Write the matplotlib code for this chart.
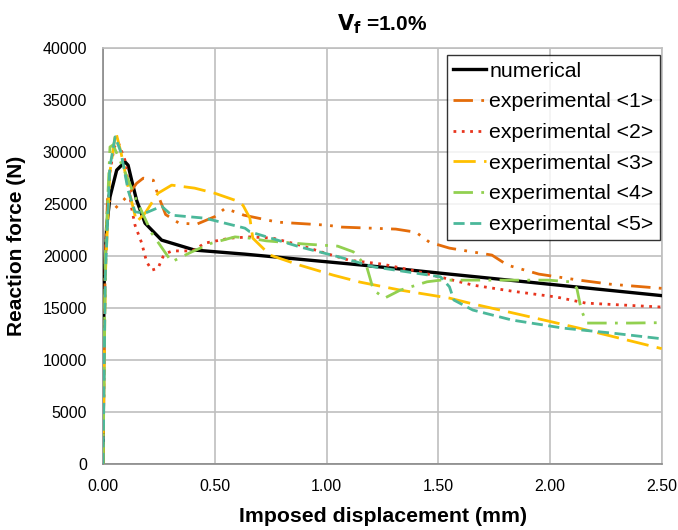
import matplotlib
matplotlib.use("Agg")
import matplotlib.pyplot as plt

plt.rcParams['font.family'] = ['Liberation Sans', 'DejaVu Sans']

num_x = [0, 0.004, 0.016, 0.031, 0.061, 0.098, 0.112, 0.128, 0.15, 0.188, 0.262, 0.41, 0.635, 1.163, 1.55, 2.5]
num_y = [0, 17000, 22800, 25700, 28270, 29070, 28750, 27300, 25380, 23170, 21540, 20580, 20190, 19130, 18270, 16200]

e1_x = [0, 0.01, 0.02, 0.054, 0.106, 0.15, 0.18, 0.225, 0.246, 0.28, 0.34, 0.42, 0.5, 0.546, 0.63, 0.78, 1.0, 1.07, 1.31, 1.4, 1.46, 1.52, 1.55, 1.74, 1.81, 1.95, 2.13, 2.27, 2.5]
e1_y = [0, 20000, 25500, 24600, 25700, 27000, 27500, 27300, 25870, 24000, 23170, 23080, 23800, 24600, 23940, 23270, 22980, 22790, 22600, 22300, 21350, 20960, 20770, 20100, 19130, 18270, 17690, 17300, 16900]

e2_x = [0, 0.01, 0.03, 0.05, 0.067, 0.098, 0.128, 0.143, 0.173, 0.195, 0.218, 0.246, 0.268, 0.285, 0.31, 0.40, 0.456, 0.568, 0.657, 0.76, 0.88, 0.98, 1.1, 1.25, 1.4, 1.51, 1.655, 1.83, 2.03, 2.16, 2.5]
e2_y = [0, 20000, 28000, 30500, 31000, 29230, 24600, 22980, 21250, 19450, 18650, 18840, 19930, 20290, 20500, 20500, 21250, 21730, 21850, 21730, 21060, 20380, 19610, 19230, 18560, 17980, 17210, 16630, 16060, 15480, 15100]

e3_x = [0, 0.01, 0.03, 0.057, 0.08, 0.112, 0.15, 0.188, 0.246, 0.307, 0.41, 0.5, 0.59, 0.626, 0.657, 0.67, 0.747, 0.88, 1.03, 1.15, 1.33, 1.55, 1.64, 1.91, 2.13, 2.5]
e3_y = [0, 18000, 28000, 31950, 30000, 26660, 23300, 24130, 26050, 26830, 26540, 26050, 25380, 24900, 23650, 21730, 20100, 19130, 18170, 17500, 16730, 15960, 15480, 14160, 13070, 11100]

e4_x = [0, 0.01, 0.031, 0.045, 0.1, 0.143, 0.218, 0.307, 0.397, 0.486, 0.59, 0.657, 0.73, 0.91, 1.05, 1.12, 1.18, 1.21, 1.26, 1.33, 1.45, 1.51, 1.76, 1.99, 2.09, 2.12, 2.14, 2.165, 2.36, 2.5]
e4_y = [0, 20000, 30500, 30700, 28000, 25700, 22200, 19450, 20410, 21250, 21850, 21730, 21470, 21150, 20960, 20410, 18970, 16730, 15960, 16730, 17530, 17690, 17690, 17690, 17530, 16920, 14810, 13560, 13560, 13600]

e5_x = [0, 0.01, 0.03, 0.054, 0.08, 0.112, 0.143, 0.188, 0.262, 0.307, 0.456, 0.635, 0.657, 0.88, 1.06, 1.21, 1.4, 1.51, 1.55, 1.57, 1.655, 1.83, 2.06, 2.28, 2.5]
e5_y = [0, 18000, 28500, 31470, 30000, 26340, 24260, 24130, 24800, 23940, 23650, 22690, 22340, 20890, 19900, 18970, 18360, 18010, 17050, 15770, 14810, 13850, 13070, 12590, 12050]

labels = ["numerical", "experimental <1>", "experimental <2>", "experimental <3>",
          "experimental <4>", "experimental <5>"]
xticks = [0, 0.5, 1.0, 1.5, 2.0, 2.5]
yticks = list(range(0, 40001, 5000))

fig = plt.figure(figsize=(6.78, 5.30), dpi=100)
ax = fig.add_axes([0.152, 0.1245, 0.824, 0.7845])

ax.plot(num_x, num_y, color='black', lw=2.4, ls='-', label=labels[0], zorder=3)
ax.plot(e1_x, e1_y, color='#E46C0A', lw=2.0, ls=(0, (7, 3, 1, 3, 1, 3)), label=labels[1], zorder=3)
ax.plot(e2_x, e2_y, color='#E8351E', lw=2.0, ls=(0, (1, 2)), label=labels[2], zorder=3)
ax.plot(e3_x, e3_y, color='#FFC000', lw=2.0, ls=(0, (8, 3)), label=labels[3], zorder=3)
ax.plot(e4_x, e4_y, color='#92D050', lw=2.0, ls=(0, (7, 3, 1, 3)), label=labels[4], zorder=3)
ax.plot(e5_x, e5_y, color='#4BB89A', lw=2.0, ls=(0, (4, 2)), label=labels[5], zorder=3)

ax.set_xlim(0, 2.5)
ax.set_ylim(0, 40000)
ax.set_xticks(xticks)
ax.set_xticklabels([f"{v:.2f}" for v in xticks])
ax.set_yticks(yticks)
ax.set_yticklabels([str(v) for v in yticks])
ax.grid(True, color='#BFBFBF', lw=1.2, zorder=0)
ax.set_axisbelow(True)
for s in ['top', 'right']:
    ax.spines[s].set_color('#BFBFBF')
    ax.spines[s].set_linewidth(1.2)
for s in ['left', 'bottom']:
    ax.spines[s].set_color('#898989')
    ax.spines[s].set_linewidth(1.2)
ax.tick_params(length=0, labelsize=11.5)
ax.tick_params(axis='x', pad=10.5)
ax.tick_params(axis='y', pad=11.5)

ax.set_xlabel("Imposed displacement (mm)", fontsize=15.3, fontweight='bold')
ax.set_ylabel("Reaction force (N)", fontsize=15, fontweight='bold')
ax.xaxis.set_label_coords(0.501, -0.103)
ax.yaxis.set_label_coords(-0.138, 0.524)
fig.text(0.564, 0.955, r"$\mathbf{V_f}$ =1.0%", fontsize=15, fontweight='bold',
         ha='center', va='center')

leg = ax.legend(loc='upper right', bbox_to_anchor=(0.9964, 0.983), fontsize=15.3,
                frameon=True, fancybox=False, edgecolor='black', handlelength=1.55,
                handletextpad=0.15, borderpad=0.3, labelspacing=0.55, borderaxespad=0.0)
leg.get_frame().set_linewidth(1.0)

fig.savefig("out.png", dpi=100)
